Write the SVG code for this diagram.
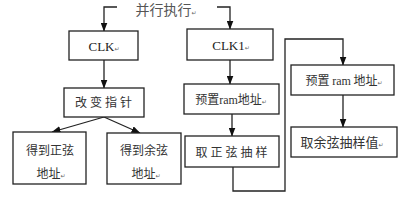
<svg xmlns="http://www.w3.org/2000/svg" width="400" height="200" viewBox="0 0 400 200">
<style>
.box{fill:#fff;stroke:#222;stroke-width:1.3}
.ln{fill:none;stroke:#222;stroke-width:1.3}
.t{font-family:"Liberation Serif","Noto Sans CJK SC",serif;fill:#222;text-anchor:middle}
.cj{font-family:"Noto Sans CJK SC","Liberation Serif",sans-serif;fill:#333;text-anchor:middle;font-size:12px}
.pm{font-family:"DejaVu Sans",sans-serif;font-size:6px;fill:#666}
</style>
<defs>
<marker id="arr" markerUnits="userSpaceOnUse" markerWidth="9" markerHeight="7" refX="8.5" refY="3.5" orient="auto">
<path d="M0,0 L9,3.5 L0,7 z" fill="#111"/>
</marker>
</defs>
<rect width="400" height="200" fill="#fff"/>
<g id="title">
<text class="cj" x="166" y="15" style="font-size:14px;fill:#555">并行执行<tspan class="pm">↵</tspan></text>
</g>
<g id="connectors">
<path class="ln" d="M117,7 H104 V31" marker-end="url(#arr)"/>
<path class="ln" d="M217,7 H230 V29" marker-end="url(#arr)"/>
<path class="ln" d="M104,60 V88" marker-end="url(#arr)"/>
<path class="ln" d="M104,117 L52,132" marker-end="url(#arr)"/>
<path class="ln" d="M104,117 L140,133" marker-end="url(#arr)"/>
<path class="ln" d="M230,60 V84" marker-end="url(#arr)"/>
<path class="ln" d="M232,114 V136" marker-end="url(#arr)"/>
<path class="ln" d="M233,167 V191 H285 V39 H343 V65" marker-end="url(#arr)"/>
<path class="ln" d="M343,95 V127" marker-end="url(#arr)"/>
</g>
<g id="clk">
<rect class="box" x="69" y="31" width="69" height="29"/>
<text class="t" x="104" y="51" style="font-size:13px">CLK<tspan class="pm">↵</tspan></text>
</g>
<g id="change-pointer">
<rect class="box" x="64" y="88" width="80" height="29"/>
<text class="cj" x="105" y="107" style="letter-spacing:3px">改变指针</text>
</g>
<g id="sine-addr">
<rect class="box" x="13" y="132" width="73" height="52"/>
<text class="cj" x="50" y="155">得到正弦</text>
<text class="cj" x="51" y="178">地址<tspan class="pm">↵</tspan></text>
</g>
<g id="cos-addr">
<rect class="box" x="107" y="133" width="74" height="51"/>
<text class="cj" x="144" y="155">得到余弦</text>
<text class="cj" x="146" y="178">地址<tspan class="pm">↵</tspan></text>
</g>
<g id="clk1">
<rect class="box" x="187" y="29" width="86" height="31"/>
<text class="t" x="231" y="50" style="font-size:13px">CLK1<tspan class="pm">↵</tspan></text>
</g>
<g id="preset-ram-1">
<rect class="box" x="184" y="84" width="95" height="30"/>
<text class="cj" x="231" y="104">预置<tspan font-family="Liberation Serif">ram</tspan>地址<tspan class="pm">↵</tspan></text>
</g>
<g id="sine-sample">
<rect class="box" x="185" y="136" width="94" height="31"/>
<text class="cj" x="233" y="157" style="letter-spacing:3px">取正弦抽样</text>
</g>
<g id="preset-ram-2">
<rect class="box" x="291" y="65" width="103" height="30"/>
<text class="cj" x="344" y="85">预置 <tspan font-family="Liberation Serif">ram</tspan> 地址<tspan class="pm">↵</tspan></text>
</g>
<g id="cos-sample">
<rect class="box" x="291" y="127" width="106" height="30"/>
<text class="cj" x="342" y="147" style="font-size:13px">取余弦抽样值<tspan class="pm">↵</tspan></text>
</g>
</svg>
